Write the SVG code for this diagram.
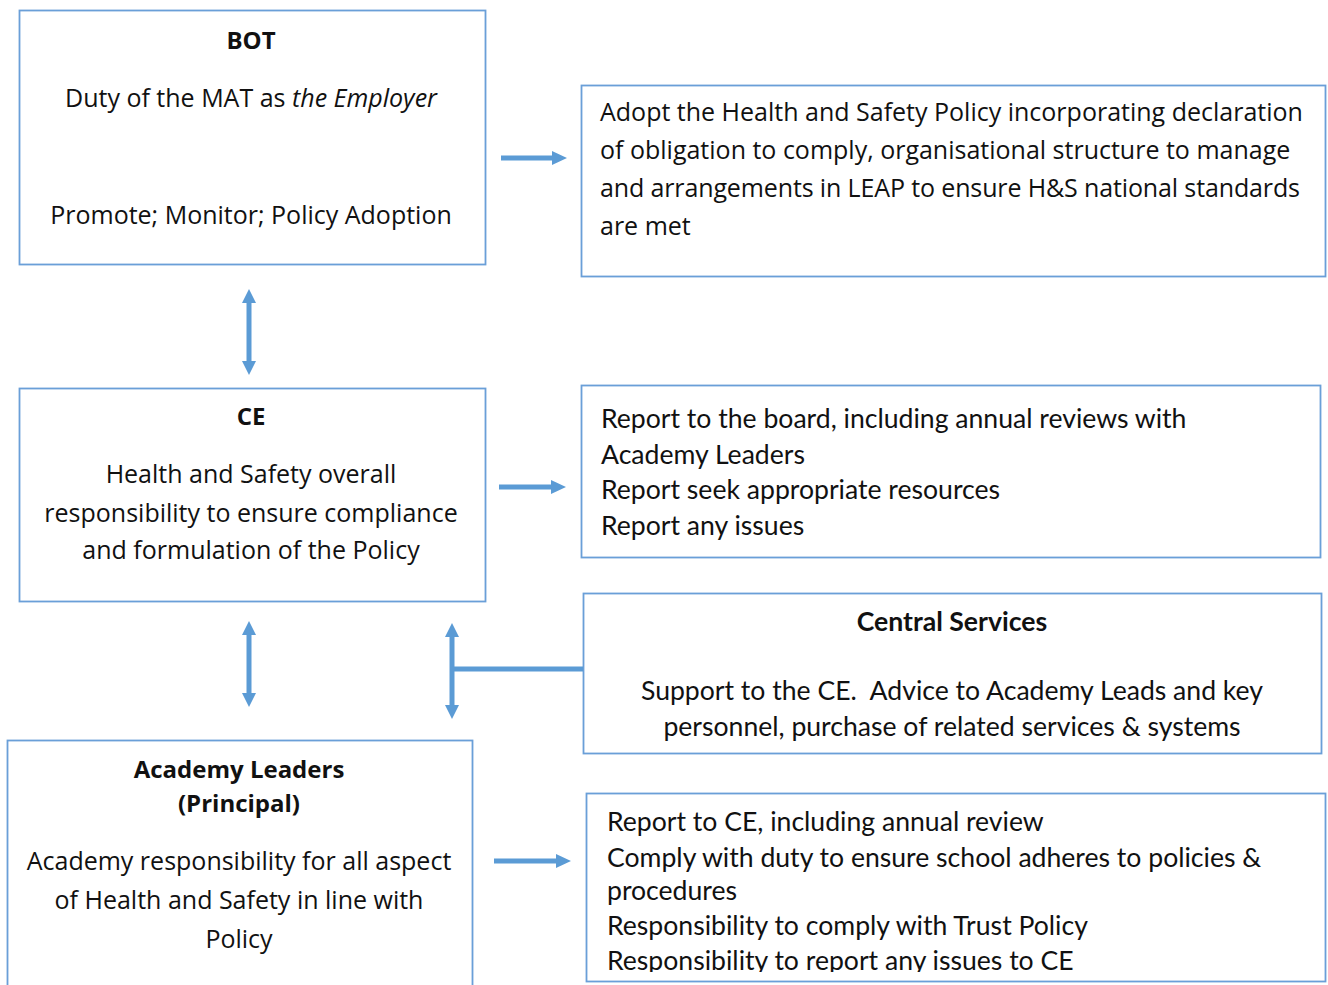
<svg xmlns="http://www.w3.org/2000/svg" width="1328" height="985" viewBox="0 0 1328 985">
<style>
.box{fill:#fff;stroke:#6a9fd8;stroke-width:1.8}
.w{font-family:"Open Sans","Noto Sans",sans-serif;font-size:25px;fill:#111}
.wb{font-family:"Open Sans","Noto Sans",sans-serif;font-size:24px;font-weight:bold;fill:#111}
.n{font-family:Lato,"Noto Sans",sans-serif;font-size:26.6px;fill:#111}
.b{font-weight:bold}
.c{text-anchor:middle}
.sh{stroke:#5b9bd5;stroke-width:5;fill:none}
.hd{fill:#5b9bd5}
</style>
<defs>
<clipPath id="clipR"><rect x="586" y="793" width="742" height="179"/></clipPath>
</defs>
<rect width="1328" height="985" fill="#fff"/>

<g id="bot">
<rect class="box" x="19.5" y="10.5" width="466" height="254"/>
<text class="wb c" x="251" y="49">BOT</text>
<text class="w c" x="251" y="107">Duty of the MAT as <tspan font-style="italic">the Employer</tspan></text>
<text class="w c" x="251" y="224">Promote; Monitor; Policy Adoption</text>
</g>

<g id="adopt">
<rect class="box" x="581.5" y="85.5" width="744" height="191"/>
<text class="w" x="600" y="121">Adopt the Health and Safety Policy incorporating declaration</text>
<text class="w" x="600" y="159">of obligation to comply, organisational structure to manage</text>
<text class="w" x="600" y="197" textLength="700">and arrangements in LEAP to ensure H&amp;S national standards</text>
<text class="w" x="600" y="235">are met</text>
</g>

<g id="ce">
<rect class="box" x="19.5" y="388.5" width="466" height="213"/>
<text class="wb c" x="251" y="425">CE</text>
<text class="w c" x="251" y="483">Health and Safety overall</text>
<text class="w c" x="251" y="522">responsibility to ensure compliance</text>
<text class="w c" x="251" y="559">and formulation of the Policy</text>
</g>

<g id="report">
<rect class="box" x="581.5" y="385.5" width="739" height="172"/>
<text class="n" x="601" y="428">Report to the board, including annual reviews with</text>
<text class="n" x="601" y="464">Academy Leaders</text>
<text class="n" x="601" y="499">Report seek appropriate resources</text>
<text class="n" x="601" y="535">Report any issues</text>
</g>

<g id="central">
<rect class="box" x="583.5" y="593.5" width="738" height="160"/>
<text class="n b c" x="952" y="631">Central Services</text>
<text class="n c" x="952" y="700" xml:space="preserve">Support to the CE.  Advice to Academy Leads and key</text>
<text class="n c" x="952" y="736">personnel, purchase of related services &amp; systems</text>
</g>

<g id="academy">
<rect class="box" x="7.5" y="740.5" width="465" height="260"/>
<text class="wb c" x="239" y="778">Academy Leaders</text>
<text class="wb c" x="239" y="812">(Principal)</text>
<text class="w c" x="239" y="870">Academy responsibility for all aspect</text>
<text class="w c" x="239" y="909">of Health and Safety in line with</text>
<text class="w c" x="239" y="948">Policy</text>
</g>

<g id="duties">
<rect class="box" x="586.5" y="793.5" width="739" height="188"/>
<g clip-path="url(#clipR)">
<text class="n" x="607" y="831">Report to CE, including annual review</text>
<text class="n" x="607" y="867">Comply with duty to ensure school adheres to policies &amp;</text>
<text class="n" x="607" y="900">procedures</text>
<text class="n" x="607" y="935">Responsibility to comply with Trust Policy</text>
<text class="n" x="607" y="970">Responsibility to report any issues to CE</text>
</g>
</g>

<g id="connectors">
<line class="sh" x1="501" y1="158" x2="553" y2="158"/>
<polygon class="hd" points="552,151 567,158 552,165"/>
<line class="sh" x1="499" y1="487" x2="552" y2="487"/>
<polygon class="hd" points="551,480 566,487 551,494"/>
<line class="sh" x1="494" y1="861" x2="557" y2="861"/>
<polygon class="hd" points="556,854 571,861 556,868"/>

<line class="sh" x1="249" y1="300" x2="249" y2="364" stroke-width="4"/>
<polygon class="hd" points="242,303 249,289 256,303"/>
<polygon class="hd" points="242,361 249,375 256,361"/>

<line class="sh" x1="249" y1="632" x2="249" y2="696" stroke-width="4"/>
<polygon class="hd" points="242,635 249,621 256,635"/>
<polygon class="hd" points="242,693 249,707 256,693"/>

<line class="sh" x1="452" y1="634" x2="452" y2="708" stroke-width="4"/>
<polygon class="hd" points="445,637 452,623 459,637"/>
<polygon class="hd" points="445,705 452,719 459,705"/>
<line class="sh" x1="452" y1="669" x2="583" y2="669" stroke-width="4"/>
</g>
</svg>
